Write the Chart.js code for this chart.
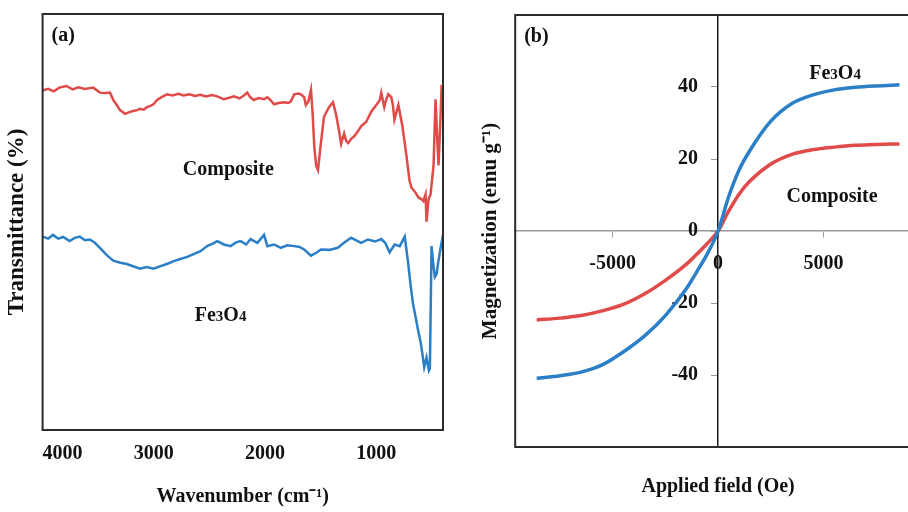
<!DOCTYPE html>
<html>
<head>
<meta charset="utf-8">
<script src="https://cdn.jsdelivr.net/npm/chart.js@4.4.0/dist/chart.umd.min.js"></script>
<style>
  html, body { margin: 0; padding: 0; background: #fff; overflow: hidden; }
  #wrap { position: relative; width: 908px; height: 512px; overflow: hidden; }
  #chartA { position: absolute; left: 0; top: 0; }
  #chartB { position: absolute; left: 455px; top: 0; }
</style>
</head>
<body>
<div id="wrap">
  <canvas id="chartA" width="455" height="512"></canvas>
  <canvas id="chartB" width="480" height="512"></canvas>
</div>
<script>
// (a) FTIR spectra
const compWavenumber = [4000, 3950, 3900, 3850, 3786, 3730, 3680, 3620, 3545, 3485, 3430, 3394, 3364, 3330, 3304, 3259, 3220, 3184, 3150, 3124, 3090, 3063, 3030, 3003, 2973, 2930, 2883, 2830, 2780, 2732, 2680, 2630, 2581, 2530, 2480, 2430, 2371, 2330, 2280, 2230, 2190, 2160, 2130, 2100, 2060, 2009, 1979, 1950, 1919, 1880, 1829, 1790, 1768, 1738, 1700, 1678, 1648, 1633, 1610, 1587, 1572, 1557, 1540, 1524, 1500, 1470, 1425, 1389, 1361, 1334, 1316, 1289, 1271, 1253, 1225, 1199, 1165, 1136, 1090, 1045, 1000, 970, 955, 928, 910, 892, 865, 850, 837, 801, 765, 729, 702, 684, 648, 621, 594, 576, 557, 548, 530, 512, 485, 467, 449, 440, 422, 413, 400];
const compTransmittance = [81.6, 82.0, 81.4, 82.3, 82.7, 81.9, 82.4, 82.0, 82.3, 81.1, 81.0, 81.1, 79.3, 78.0, 76.9, 76.0, 76.4, 76.7, 76.9, 77.2, 77.0, 77.6, 77.9, 78.3, 79.3, 80.0, 80.7, 80.4, 80.8, 80.4, 80.7, 80.3, 80.6, 80.2, 80.5, 80.2, 79.5, 79.8, 80.2, 79.7, 80.4, 81.1, 79.9, 79.3, 79.8, 79.5, 80.0, 79.3, 78.3, 78.6, 78.8, 78.6, 79.0, 80.7, 80.9, 80.7, 80.0, 78.1, 79.0, 81.8, 76.0, 68.0, 63.5, 62.5, 68.5, 75.3, 77.6, 78.8, 75.8, 71.8, 68.8, 71.3, 69.5, 69.0, 70.0, 70.6, 71.8, 73.0, 74.1, 76.5, 78.1, 79.2, 81.1, 77.6, 79.5, 80.7, 80.0, 78.0, 74.6, 78.1, 73.0, 66.0, 60.1, 58.3, 57.1, 55.9, 55.5, 55.0, 56.6, 50.1, 55.5, 56.6, 63.6, 79.5, 68.3, 63.6, 75.3, 82.3, 81.8];

const fe3o4Wavenumber = [4000, 3950, 3907, 3860, 3816, 3756, 3710, 3666, 3620, 3575, 3530, 3485, 3430, 3365, 3300, 3244, 3180, 3124, 3063, 3003, 2940, 2883, 2820, 2762, 2700, 2642, 2580, 2521, 2470, 2430, 2370, 2310, 2260, 2220, 2170, 2130, 2069, 2009, 1979, 1920, 1858, 1800, 1738, 1690, 1648, 1587, 1540, 1497, 1420, 1346, 1290, 1226, 1180, 1136, 1075, 1010, 955, 920, 880, 835, 789, 744, 714, 690, 669, 645, 624, 600, 587, 569, 548, 527, 518, 503, 488, 473, 458, 443, 420, 400];
const fe3o4Transmittance = [46.5, 46.0, 46.9, 46.0, 46.4, 45.4, 46.2, 46.5, 45.6, 45.8, 45.0, 43.8, 42.2, 40.7, 40.2, 39.9, 39.3, 38.8, 39.2, 38.8, 39.4, 39.9, 40.6, 41.1, 41.6, 42.3, 43.0, 44.2, 44.8, 45.4, 44.6, 44.2, 45.1, 45.4, 44.6, 45.9, 45.0, 46.9, 44.2, 44.6, 43.8, 44.4, 44.2, 44.0, 43.4, 41.9, 42.6, 43.4, 43.3, 43.8, 45.0, 46.2, 45.6, 45.0, 45.8, 45.3, 45.9, 45.0, 42.7, 44.6, 44.2, 46.5, 40.3, 34.5, 30.2, 27.0, 24.0, 21.0, 18.6, 15.1, 17.4, 14.3, 14.8, 44.2, 40.0, 36.8, 37.5, 40.3, 44.0, 46.9];

const wavenumberTicks = [400, 1000, 2000, 3000, 4000];

// (b) magnetization curves
const appliedField = [-8600, -7500, -6500, -5500, -4500, -3500, -2500, -1500, -1000, -500, 0, 500, 1000, 1500, 2500, 3500, 4500, 5500, 6500, 7500, 8600];
const fe3o4Magnetization = [-40.9, -40.2, -39.2, -37.2, -33.6, -29.2, -23.5, -16.0, -11.2, -6.2, 0, 9.5, 17.0, 22.3, 30.5, 35.4, 37.8, 39.2, 39.9, 40.3, 40.6];
const compMagnetization = [-24.7, -24.2, -23.5, -22.2, -20.4, -17.5, -13.7, -9.2, -6.4, -3.4, 0, 5.5, 10.3, 13.8, 18.6, 21.3, 22.6, 23.3, 23.8, 24.0, 24.2];

const fieldTicks = [-5000, 0, 5000];
const magnetizationTicks = [-40, -20, 0, 20, 40];

const RED = "#e04a48";
const BLUE = "#2a7fc6";
const TEXT = "#111";
const SERIF = "'Liberation Serif', 'Times New Roman', serif";
const labelFont = { family: SERIF, size: 20, weight: "bold" };

function toPoints(xs, ys) {
  return xs.map((x, i) => ({ x: x, y: ys[i] }));
}

// draws text made of runs of different sizes, centred on (cx, cy)
function drawRuns(ctx, runs, cx, cy) {
  let total = 0;
  runs.forEach(r => {
    ctx.font = "bold " + r.size + "px " + SERIF;
    r.w = ctx.measureText(r.text).width;
    total += r.w;
  });
  let x = cx - total / 2;
  runs.forEach(r => {
    ctx.font = "bold " + r.size + "px " + SERIF;
    ctx.fillText(r.text, x, cy + 7);
    x += r.w;
  });
}

const FE3O4 = [{ text: "Fe", size: 20 }, { text: "3", size: 15 }, { text: "O", size: 20 }, { text: "4", size: 15 }];
const COMPOSITE = [{ text: "Composite", size: 20 }];

// box round the plot area, panel letter and curve names
const notesPlugin = {
  id: "notes",
  afterDatasetsDraw(chart, args, opts) {
    const ctx = chart.ctx;
    const a = chart.chartArea;
    ctx.save();
    ctx.strokeStyle = "#2b2b2b";
    ctx.lineWidth = 2;
    ctx.strokeRect(a.left, a.top, a.right - a.left, a.bottom - a.top);
    ctx.fillStyle = TEXT;
    ctx.textAlign = "left";
    ctx.textBaseline = "alphabetic";
    ctx.font = "bold 20px " + SERIF;
    ctx.fillText(opts.panel, a.left + 9, a.top + 27);
    const xs = chart.scales.x, ys = chart.scales.y;
    opts.names.forEach(n => {
      drawRuns(ctx, n.runs, xs.getPixelForValue(n.x), ys.getPixelForValue(n.y));
    });
    ctx.restore();
  }
};

new Chart(document.getElementById("chartA"), {
  type: "scatter",
  data: {
    datasets: [
      {
        label: "Composite",
        data: toPoints(compWavenumber, compTransmittance),
        showLine: true,
        borderColor: RED,
        borderWidth: 2.5,
        pointRadius: 0,
        tension: 0,
      },
      {
        label: "Fe3O4",
        data: toPoints(fe3o4Wavenumber, fe3o4Transmittance),
        showLine: true,
        borderColor: BLUE,
        borderWidth: 2.5,
        pointRadius: 0,
        tension: 0,
      },
    ],
  },
  options: {
    responsive: false,
    animation: false,
    layout: { padding: { left: 0, right: 12, top: 14, bottom: 0 } },
    plugins: {
      legend: { display: false },
      tooltip: { enabled: false },
      notes: {
        panel: "(a)",
        names: [
          { runs: COMPOSITE, x: 2330, y: 63 },
          { runs: FE3O4, x: 2400, y: 28 },
        ],
      },
    },
    scales: {
      x: {
        type: "linear",
        reverse: true,
        min: 400,
        max: 4000,
        afterBuildTicks: (s) => { s.ticks = wavenumberTicks.map(v => ({ value: v })); },
        ticks: {
          callback: (v) => (v === 400 ? "" : String(v)),
          font: labelFont,
          color: TEXT,
          padding: 12,
          align: "inner",
          autoSkip: false,
          maxRotation: 0,
        },
        grid: { display: false, drawTicks: false },
        border: { display: false },
        title: { display: true, text: "Wavenumber (cm⁻¹)", font: labelFont, color: TEXT, padding: { top: 7, bottom: 3 } },
      },
      y: {
        min: 0,
        max: 100,
        ticks: { display: false },
        grid: { display: false, drawTicks: false },
        border: { display: false },
        title: { display: true, text: "Transmittance (%)", font: { family: SERIF, size: 23, weight: "bold" }, color: TEXT, padding: { top: 3, bottom: 12 } },
      },
    },
  },
  plugins: [notesPlugin],
});

const noPad = (s) => { s.paddingTop = 0; s.paddingBottom = 0; s.paddingLeft = 0; s.paddingRight = 0; };

new Chart(document.getElementById("chartB"), {
  type: "scatter",
  data: {
    datasets: [
      {
        label: "Fe3O4",
        data: toPoints(appliedField, fe3o4Magnetization),
        xAxisID: "x",
        yAxisID: "y",
        showLine: true,
        borderColor: BLUE,
        borderWidth: 3.5,
        pointRadius: 0,
        cubicInterpolationMode: "monotone",
      },
      {
        label: "Composite",
        data: toPoints(appliedField, compMagnetization),
        xAxisID: "x",
        yAxisID: "y",
        showLine: true,
        borderColor: RED,
        borderWidth: 3.5,
        pointRadius: 0,
        cubicInterpolationMode: "monotone",
      },
    ],
  },
  options: {
    responsive: false,
    animation: false,
    layout: { padding: { left: 0, right: 14, top: 15, bottom: 0 } },
    plugins: {
      legend: { display: false },
      tooltip: { enabled: false },
      notes: {
        panel: "(b)",
        names: [
          { runs: FE3O4, x: 5545, y: 44.2 },
          { runs: COMPOSITE, x: 5403, y: 10 },
        ],
      },
    },
    scales: {
      x: {
        type: "linear",
        axis: "x",
        position: { y: 0 },
        min: -9620,
        max: 9620,
        afterBuildTicks: (s) => { s.ticks = fieldTicks.map(v => ({ value: v })); },
        afterFit: noPad,
        ticks: { callback: (v) => String(v), font: labelFont, color: TEXT, padding: 15, autoSkip: false, maxRotation: 0 },
        grid: { display: true, drawOnChartArea: false, drawTicks: true, tickLength: 6, color: "#9a9a9a" },
        border: { display: true, color: "#9a9a9a", width: 1.5 },
      },
      y: {
        type: "linear",
        axis: "y",
        position: { x: 0 },
        min: -60,
        max: 60,
        afterBuildTicks: (s) => { s.ticks = magnetizationTicks.map(v => ({ value: v })); },
        afterFit: noPad,
        // labels sit right-aligned on the axis line; an em space keeps them clear of it
        ticks: { callback: (v) => v + "\u2003", font: labelFont, color: TEXT, padding: 14, autoSkip: false },
        grid: { display: true, drawOnChartArea: false, drawTicks: true, tickLength: 6, color: "#9a9a9a" },
        border: { display: true, color: "#1a1a1a", width: 1.5 },
      },
      xt: {
        type: "linear",
        axis: "x",
        position: "bottom",
        ticks: { display: false },
        grid: { display: false, drawTicks: false },
        border: { display: false },
        title: { display: true, text: "Applied field (Oe)", font: labelFont, color: TEXT, padding: { top: 28, bottom: 13 } },
      },
      yt: {
        type: "linear",
        axis: "y",
        position: "left",
        ticks: { display: false },
        grid: { display: false, drawTicks: false },
        border: { display: false },
        title: { display: true, text: "Magnetization (emu g⁻¹)", font: { family: SERIF, size: 21, weight: "bold" }, color: TEXT, padding: { top: 23, bottom: 12 } },
      },
    },
  },
  plugins: [notesPlugin],
});
</script>
</body>
</html>
